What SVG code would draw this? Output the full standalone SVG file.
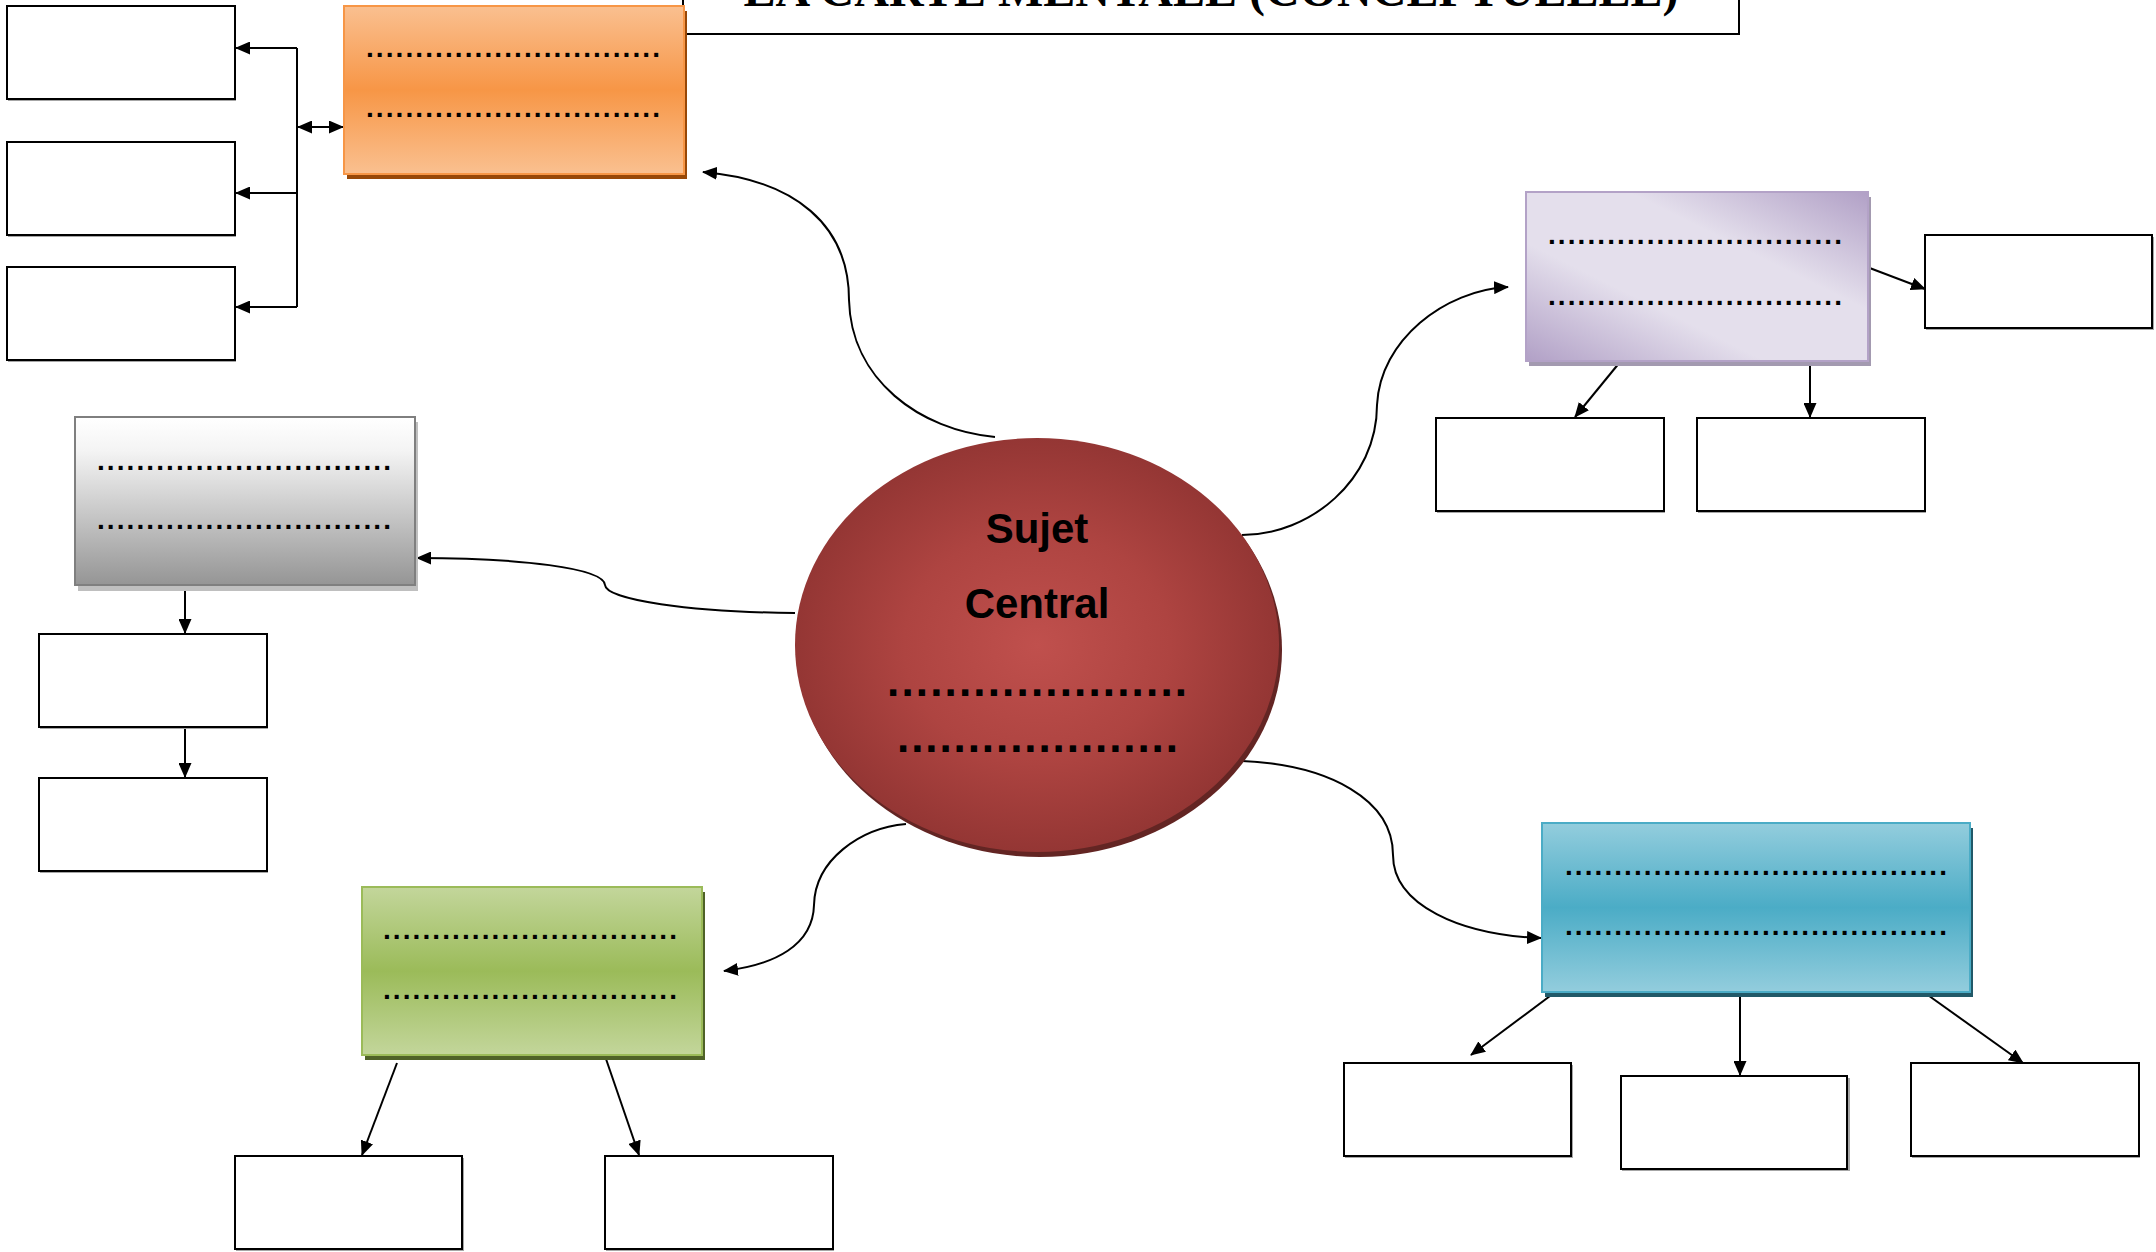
<svg xmlns="http://www.w3.org/2000/svg" width="2156" height="1252" viewBox="0 0 2156 1252">
<style>
.box{fill:#fff;stroke:#000;stroke-width:2}
.bsh{fill:#a6a6a6}
.dots{font-family:"Liberation Sans",Arial,sans-serif;font-weight:bold;font-size:28px;fill:#000}
.bdots{font-family:"Liberation Sans",Arial,sans-serif;font-weight:bold;font-size:44px;fill:#000}
.ctr{font-family:"Liberation Sans",Arial,sans-serif;font-weight:bold;font-size:42px;fill:#000;text-anchor:middle}
.title{font-family:"Liberation Serif","Times New Roman",serif;font-weight:bold;font-size:48px;fill:#000;text-anchor:middle}
.con{fill:none;stroke:#000;stroke-width:2}
</style>
<defs>
<marker id="ah" viewBox="0 0 15 13" refX="14" refY="6.5" markerWidth="15" markerHeight="13" markerUnits="userSpaceOnUse" orient="auto-start-reverse">
<path d="M0,0 L15,6.5 L0,13 Z" fill="#000"/>
</marker>
<linearGradient id="gOr" x1="0" y1="0" x2="0" y2="1">
<stop offset="0" stop-color="#FAC090"/><stop offset="0.5" stop-color="#F79646"/><stop offset="1" stop-color="#FAC090"/>
</linearGradient>
<linearGradient id="gGr" x1="0" y1="0" x2="0" y2="1">
<stop offset="0" stop-color="#FFFFFF"/><stop offset="0.2" stop-color="#F4F4F4"/><stop offset="1" stop-color="#959595"/>
</linearGradient>
<linearGradient id="gPu" x1="1" y1="0" x2="0" y2="1">
<stop offset="0" stop-color="#B1A0C6"/><stop offset="0.35" stop-color="#E4DFEC"/><stop offset="0.65" stop-color="#E4DFEC"/><stop offset="1" stop-color="#B1A0C6"/>
</linearGradient>
<linearGradient id="gGn" x1="0" y1="0" x2="0" y2="1">
<stop offset="0" stop-color="#C3D69B"/><stop offset="0.5" stop-color="#9BBB59"/><stop offset="1" stop-color="#C3D69B"/>
</linearGradient>
<linearGradient id="gBl" x1="0" y1="0" x2="0" y2="1">
<stop offset="0" stop-color="#93CDDD"/><stop offset="0.5" stop-color="#4BACC6"/><stop offset="1" stop-color="#93CDDD"/>
</linearGradient>
<radialGradient id="gC" cx="0.5" cy="0.5" r="0.5">
<stop offset="0" stop-color="#C0504D"/><stop offset="0.55" stop-color="#AE4441"/><stop offset="1" stop-color="#943634"/>
</radialGradient>
</defs>
<rect width="2156" height="1252" fill="#fff"/>

<g id="title">
<rect x="683" y="-20" width="1056" height="54" fill="#fff" stroke="#000" stroke-width="2"/>
<text class="title" x="1211" y="6">LA CARTE MENTALE (CONCEPTUELLE)</text>
</g>

<g id="connectors">
<path class="con" d="M297,48 V307"/>
<path class="con" d="M297,48 H236" marker-end="url(#ah)"/>
<path class="con" d="M297,193 H236" marker-end="url(#ah)"/>
<path class="con" d="M297,307 H236" marker-end="url(#ah)"/>
<path class="con" d="M298,127 H343" marker-start="url(#ah)" marker-end="url(#ah)"/>
<path class="con" d="M995,437 C920,430 851,380 849,300 C849,225 795,180 703,172" marker-end="url(#ah)"/>
<path class="con" d="M1242,535 C1310,535 1377,480 1377,405 C1380,340 1445,290 1508,287" marker-end="url(#ah)"/>
<path class="con" d="M795,613 C690,612 606,600 605,585 C604,568 520,558 417,558" marker-end="url(#ah)"/>
<path class="con" d="M906,824 C860,828 815,860 814,905 C813,945 775,965 724,971" marker-end="url(#ah)"/>
<path class="con" d="M1242,761 C1330,765 1393,800 1393,855 C1393,905 1460,935 1541,938" marker-end="url(#ah)"/>
<path class="con" d="M185,586 V633" marker-end="url(#ah)"/>
<path class="con" d="M185,728 V777" marker-end="url(#ah)"/>
<path class="con" d="M1620,362 L1575,417" marker-end="url(#ah)"/>
<path class="con" d="M1810,362 V417" marker-end="url(#ah)"/>
<path class="con" d="M1867,267 L1925,289" marker-end="url(#ah)"/>
<path class="con" d="M397,1063 L362,1155" marker-end="url(#ah)"/>
<path class="con" d="M605,1056 L639,1155" marker-end="url(#ah)"/>
<path class="con" d="M1554,993 L1471,1055" marker-end="url(#ah)"/>
<path class="con" d="M1740,993 V1075" marker-end="url(#ah)"/>
<path class="con" d="M1925,993 L2023,1063" marker-end="url(#ah)"/>
</g>

<g id="orange">
<rect x="347" y="11" width="340" height="168" fill="#984807"/>
<rect x="344" y="6" width="340" height="168" fill="url(#gOr)" stroke="#F79646" stroke-width="2"/>
<text class="dots" x="366" y="57" textLength="294" lengthAdjust="spacing">..............................</text>
<text class="dots" x="366" y="117" textLength="294" lengthAdjust="spacing">..............................</text>
</g>
<g id="or1"><rect class="bsh" x="8" y="8" width="228" height="93"/><rect class="box" x="7" y="6" width="228" height="93"/></g>
<g id="or2"><rect class="bsh" x="8" y="144" width="228" height="93"/><rect class="box" x="7" y="142" width="228" height="93"/></g>
<g id="or3"><rect class="bsh" x="8" y="269" width="228" height="93"/><rect class="box" x="7" y="267" width="228" height="93"/></g>

<g id="gray">
<rect x="78" y="422" width="340" height="169" fill="#BFBFBF"/>
<rect x="75" y="417" width="340" height="168" fill="url(#gGr)" stroke="#7F7F7F" stroke-width="2"/>
<text class="dots" x="97" y="470" textLength="294" lengthAdjust="spacing">..............................</text>
<text class="dots" x="97" y="529" textLength="294" lengthAdjust="spacing">..............................</text>
</g>
<g id="gr1"><rect class="bsh" x="40" y="636" width="228" height="93"/><rect class="box" x="39" y="634" width="228" height="93"/></g>
<g id="gr2"><rect class="bsh" x="40" y="780" width="228" height="93"/><rect class="box" x="39" y="778" width="228" height="93"/></g>

<g id="purple">
<rect x="1529" y="197" width="342" height="169" fill="#A39AB0"/>
<rect x="1526" y="192" width="342" height="169" fill="url(#gPu)" stroke="#B3A2C7" stroke-width="2"/>
<text class="dots" x="1548" y="244" textLength="294" lengthAdjust="spacing">..............................</text>
<text class="dots" x="1548" y="305" textLength="294" lengthAdjust="spacing">..............................</text>
</g>
<g id="pu1"><rect class="bsh" x="1926" y="237" width="228" height="93"/><rect class="box" x="1925" y="235" width="227" height="93"/></g>
<g id="pu2"><rect class="bsh" x="1437" y="420" width="228" height="93"/><rect class="box" x="1436" y="418" width="228" height="93"/></g>
<g id="pu3"><rect class="bsh" x="1698" y="420" width="228" height="93"/><rect class="box" x="1697" y="418" width="228" height="93"/></g>

<g id="green">
<rect x="365" y="892" width="340" height="168" fill="#4F6228"/>
<rect x="362" y="887" width="340" height="168" fill="url(#gGn)" stroke="#9BBB59" stroke-width="2"/>
<text class="dots" x="383" y="939" textLength="294" lengthAdjust="spacing">..............................</text>
<text class="dots" x="383" y="999" textLength="294" lengthAdjust="spacing">..............................</text>
</g>
<g id="gn1"><rect class="bsh" x="236" y="1158" width="228" height="93"/><rect class="box" x="235" y="1156" width="227" height="93"/></g>
<g id="gn2"><rect class="bsh" x="606" y="1158" width="228" height="93"/><rect class="box" x="605" y="1156" width="228" height="93"/></g>

<g id="blue">
<rect x="1545" y="828" width="428" height="169" fill="#215968"/>
<rect x="1542" y="823" width="428" height="169" fill="url(#gBl)" stroke="#4BACC6" stroke-width="2"/>
<text class="dots" x="1565" y="875" textLength="382" lengthAdjust="spacing">.......................................</text>
<text class="dots" x="1565" y="935" textLength="382" lengthAdjust="spacing">.......................................</text>
</g>
<g id="bl1"><rect class="bsh" x="1345" y="1065" width="228" height="93"/><rect class="box" x="1344" y="1063" width="227" height="93"/></g>
<g id="bl2"><rect class="bsh" x="1622" y="1078" width="228" height="93"/><rect class="box" x="1621" y="1076" width="226" height="93"/></g>
<g id="bl3"><rect class="bsh" x="1912" y="1065" width="228" height="93"/><rect class="box" x="1911" y="1063" width="228" height="93"/></g>

<g id="center">
<ellipse cx="1040" cy="650" rx="242" ry="207" fill="#632523"/>
<ellipse cx="1037" cy="645" rx="242" ry="207" fill="url(#gC)"/>
<text class="ctr" x="1037" y="543">Sujet</text>
<text class="ctr" x="1037" y="618">Central</text>
<text class="bdots" x="887" y="696" textLength="300" lengthAdjust="spacing">.....................</text>
<text class="bdots" x="897" y="752" textLength="281" lengthAdjust="spacing">....................</text>
</g>
</svg>
